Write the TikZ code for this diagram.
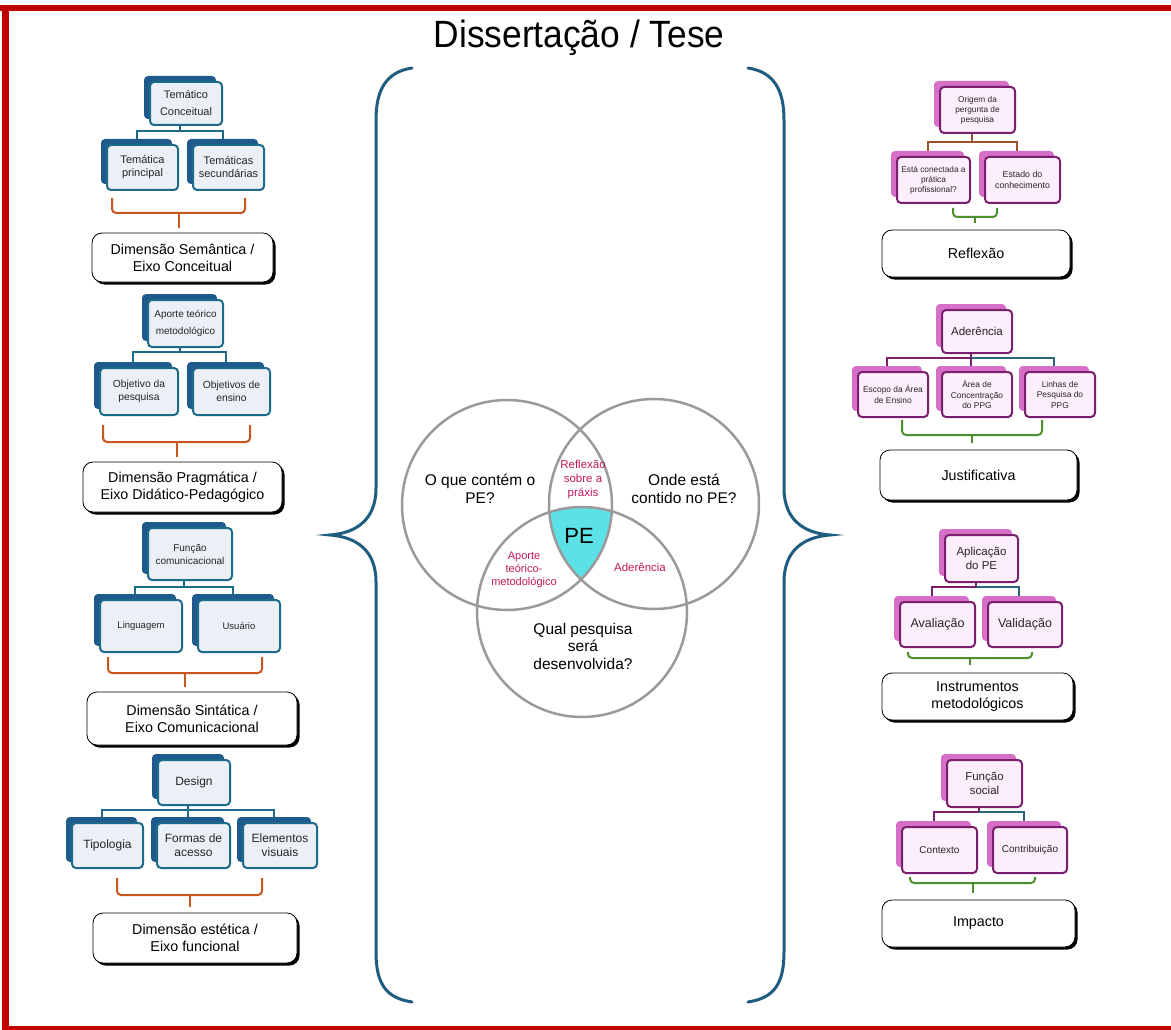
\documentclass[tikz,border=0pt]{standalone}
\usepackage{fontspec}
\setmainfont{Liberation Sans}
\usetikzlibrary{backgrounds}
\definecolor{frameRed}{HTML}{C00000}
\definecolor{braceBlue}{HTML}{1F5C80}
\definecolor{bBack}{HTML}{1F5A8C}
\definecolor{bLine}{HTML}{1D6A8A}
\definecolor{bFill}{HTML}{EAF0F6}
\definecolor{pBack}{HTML}{D66FC7}
\definecolor{pLine}{HTML}{7A1F6E}
\definecolor{pFill}{HTML}{FCEEFA}
\definecolor{oBrace}{HTML}{C8561E}
\definecolor{gBrace}{HTML}{4E8F2E}
\definecolor{brownC}{HTML}{A0522D}
\definecolor{tealC}{HTML}{2A6580}
\definecolor{vennGray}{HTML}{9A9A9A}
\definecolor{peCyan}{HTML}{5CE1E6}
\definecolor{magText}{HTML}{C2185B}
\definecolor{txt}{HTML}{262626}

\newcommand\BX[9]{%
 \node[#1back, minimum width={(#5-#3)*1pt}, minimum height={(#6-#4)*1pt}] (#2b) at ({(#3+#5)/2-6},{(#4+#6)/2-6}) {};
 \node[#1front, minimum width={(#5-#3)*1pt}, minimum height={(#6-#4)*1pt}, font=\fontsize{#7}{#8}\selectfont] (#2) at ({(#3+#5)/2},{(#4+#6)/2}) {#9};
}
\newcommand\LB[6]{%
 \fill[black, rounded corners=10pt] (#2+2.5,#3+2.5) rectangle (#4+2.5,#5+2.5);
 \node[labelbox, minimum width={(#4-#2)*1pt}, minimum height={(#5-#3)*1pt}] (#1) at ({(#2+#4)/2},{(#3+#5)/2}) {#6};
}
\newcommand\BR[6]{%
 \draw[#1, rounded corners=4pt] (#2,#4) -- (#2,#5) -- (#3,#5) -- (#3,#4);
 \draw[#1] ({(#2+#3)/2},#5) -- ({(#2+#3)/2},#6);
}

\begin{document}
\begin{tikzpicture}[x=1pt,y=-1pt,
  bback/.style={fill=bBack, draw=none, rounded corners=4pt, inner sep=0pt},
  bfront/.style={fill=bFill, draw=bLine, line width=2pt, rounded corners=4pt, inner sep=1pt, align=center, text=txt},
  pback/.style={fill=pBack, draw=none, rounded corners=4pt, inner sep=0pt},
  pfront/.style={fill=pFill, draw=pLine, line width=2pt, rounded corners=4pt, inner sep=1pt, align=center, text=txt},
  labelbox/.style={draw=black, fill=white, line width=0.8pt, rounded corners=10pt, align=center, inner sep=1pt, font=\fontsize{14.3}{17}\selectfont},
  bconn/.style={draw=bLine, line width=2pt},
  pconn/.style={draw=pLine, line width=2pt},
  tconn/.style={draw=tealC, line width=2pt},
  rconn/.style={draw=brownC, line width=2pt},
  obr/.style={draw=oBrace, line width=2pt},
  gbr/.style={draw=gBrace, line width=2pt},
  bigbrace/.style={draw=braceBlue, line width=3pt, line cap=round},
  venn/.style={draw=vennGray, line width=2.5pt},
  vtext/.style={align=center, font=\fontsize{15.5}{17.5}\selectfont, text=black},
  mtext/.style={align=center, font=\fontsize{11.5}{14}\selectfont, text=magText}
]
\useasboundingbox (0,0) rectangle (1171,1030);

% frame
\fill[frameRed] (0,5) rectangle (1171,11);
\fill[frameRed] (2,5) rectangle (9,1030);
\fill[frameRed] (2,1026) rectangle (1171,1030);

% title
\node[font=\fontsize{38}{42}\selectfont] (title) at (579,38) {\scalebox{0.93}[1]{Dissertação / Tese}};

% big braces
\draw[bigbrace] (412,68) .. controls (386,72) and (376,90) .. (376,120) -- (376,488) .. controls (376,520) and (356,533) .. (330,535) .. controls (356,537) and (376,550) .. (376,582) -- (376,952) .. controls (376,984) and (386,998) .. (412,1002);
\draw[bigbrace] (748,68) .. controls (774,72) and (784,90) .. (784,120) -- (784,488) .. controls (784,520) and (804,533) .. (830,535) .. controls (804,537) and (784,550) .. (784,582) -- (784,952) .. controls (784,984) and (774,998) .. (748,1002);

% Venn
\coordinate (vA) at (507,505);
\coordinate (vB) at (654,504);
\coordinate (vC) at (582,612);
\begin{scope}
 \clip (vA) circle[radius=105pt];
 \clip (vB) circle[radius=105pt];
 \fill[peCyan] (vC) circle[radius=105pt];
\end{scope}
\draw[venn] (vA) circle[radius=105pt];
\draw[venn] (vB) circle[radius=105pt];
\draw[venn] (vC) circle[radius=105pt];
\node[vtext] (tA) at (480,489) {O que contém o\\PE?};
\node[vtext] (tB) at (684,489) {Onde está\\contido no PE?};
\node[vtext] (tC) at (583,646) {Qual pesquisa\\será\\desenvolvida?};
\node[mtext] (tAB) at (583,480) {Reflexão\\sobre a\\práxis};
\node[mtext, font=\fontsize{11}{13}\selectfont] (tAC) at (524,570) {Aporte\\teórico-\\metodológico};
\node[mtext] (tBC) at (640,567) {Aderência};
\node[font=\fontsize{22}{24}\selectfont] (tPE) at (579,536) {PE};

% ---------------- left groups ----------------
\BX{b}{La}{150}{82}{222}{125}{11}{17}{Temático\\Conceitual}
\BX{b}{La1}{107}{145}{178}{190}{11}{13}{Temática\\principal}
\BX{b}{La2}{193}{145}{264}{190}{11}{13}{Temáticas\\secundárias}
\coordinate (busLa) at (0,131);
\BR{obr}{112}{245}{198}{213}{228}
\LB{LaL}{92}{233}{273}{282}{Dimensão Semântica /\\Eixo Conceitual}

\BX{b}{Lb}{148}{300}{223}{347}{10}{17}{Aporte teórico\\metodológico}
\BX{b}{Lb1}{100}{368}{178}{415}{10.3}{13}{Objetivo da\\pesquisa}
\BX{b}{Lb2}{193}{368}{270}{415}{10.3}{13}{Objetivos de\\ensino}
\coordinate (busLb) at (0,352);
\BR{obr}{103}{250}{425}{442}{457}
\LB{LbL}{83}{462}{282}{512}{Dimensão Pragmática /\\Eixo Didático-Pedagógico}

\BX{b}{Lc}{148}{528}{232}{580}{10}{13}{Função\\comunicacional}
\BX{b}{Lc1}{100}{600}{182}{652}{9.5}{12}{Linguagem}
\BX{b}{Lc2}{198}{600}{280}{652}{9.5}{12}{Usuário}
\coordinate (busLc) at (0,587);
\BR{obr}{108}{262}{657}{673}{687}
\LB{LcL}{87}{692}{297}{745}{Dimensão Sintática /\\Eixo Comunicacional}

\BX{b}{Ld}{158}{760}{230}{805}{12}{14}{Design}
\BX{b}{Ld1}{72}{823}{143}{868}{12}{14}{Tipologia}
\BX{b}{Ld2}{157}{823}{230}{868}{12}{14}{Formas de\\acesso}
\BX{b}{Ld3}{243}{823}{317}{868}{12}{14}{Elementos\\visuais}
\coordinate (busLd) at (0,810);
\BR{obr}{117}{262}{878}{895}{907}
\LB{LdL}{93}{913}{297}{963}{Dimensão estética /\\Eixo funcional}

% ---------------- right groups ----------------
\BX{p}{Ra}{940}{87}{1015}{133}{8.3}{10}{Origem da\\pergunta de\\pesquisa}
\BX{p}{Ra1}{897}{157}{970}{203}{8.3}{10}{Está conectada a\\prática\\profissional?}
\BX{p}{Ra2}{985}{157}{1060}{203}{8.8}{11}{Estado do\\conhecimento}
\coordinate (busRa) at (0,142);
\BR{gbr}{953}{997}{208}{217}{223}
\LB{RaL}{882}{230}{1070}{277}{Reflexão}

\BX{p}{Rb}{942}{310}{1012}{353}{11.5}{14}{Aderência}
\BX{p}{Rb1}{858}{372}{928}{417}{8.4}{11}{Escopo da Área\\de Ensino}
\BX{p}{Rb2}{942}{372}{1012}{417}{8.4}{10.5}{Área de\\Concentração\\do PPG}
\BX{p}{Rb3}{1025}{372}{1095}{417}{8.4}{10.5}{Linhas de\\Pesquisa do\\PPG}
\coordinate (busRb) at (0,358);
\BR{gbr}{902}{1042}{420}{435}{443}
\LB{RbL}{880}{450}{1077}{500}{Justificativa}

\BX{p}{Rc}{945}{535}{1018}{582}{11.5}{14}{Aplicação\\do PE}
\BX{p}{Rc1}{900}{602}{975}{647}{12.5}{14}{Avaliação}
\BX{p}{Rc2}{988}{602}{1062}{647}{12.5}{14}{Validação}
\coordinate (busRc) at (0,587);
\BR{gbr}{908}{1032}{652}{658}{665}
\LB{RcL}{882}{673}{1073}{720}{Instrumentos\\metodológicos}

\BX{p}{Rd}{947}{760}{1022}{807}{11.5}{14}{Função\\social}
\BX{p}{Rd1}{902}{827}{977}{873}{10}{12}{Contexto}
\BX{p}{Rd2}{993}{827}{1067}{873}{10}{12}{Contribuição}
\coordinate (busRd) at (0,812);
\BR{gbr}{910}{1035}{877}{883}{893}
\LB{RdL}{882}{900}{1075}{947}{Impacto}

% ---------------- connectors (behind) ----------------
\begin{scope}[on background layer]
 \fill[white] (0,0) rectangle (1171,1030);
 \draw[bconn] (Lab.south) -- (Lab.south |- busLa);
 \draw[bconn] (La1b.north) |- (La2b.north |- busLa) -- (La2b.north);
 \draw[bconn] (Lbb.south) -- (Lbb.south |- busLb);
 \draw[bconn] (Lb1b.north) |- (Lb2b.north |- busLb) -- (Lb2b.north);
 \draw[bconn] (Lcb.south) -- (Lcb.south |- busLc);
 \draw[bconn] (Lc1b.north) |- (Lc2b.north |- busLc) -- (Lc2b.north);
 \draw[bconn] (Ldb.south) -- (Ldb.south |- busLd);
 \draw[bconn] (Ld1b.north) |- (Ld3b.north |- busLd) -- (Ld3b.north);
 \draw[bconn] (Ld2b.north) -- (Ld2b.north |- busLd);

 \draw[rconn] (Rab.south) -- (Rab.south |- busRa);
 \draw[rconn] (Ra1b.north) |- (Ra2b.north |- busRa) -- (Ra2b.north);

 \draw[pconn] (Rbb.south) -- (Rbb.south |- busRb);
 \draw[pconn] (Rb1b.north) |- (Rbb.south |- busRb);
 \draw[tconn] (Rbb.south |- busRb) -| (Rb3b.north);
 \draw[pconn] (Rb2b.north) -- (Rb2b.north |- busRb);

 \draw[pconn] (Rcb.south) -- (Rcb.south |- busRc);
 \draw[pconn] (Rc1b.north) |- (Rcb.south |- busRc);
 \draw[tconn] (Rcb.south |- busRc) -| (Rc2b.north);

 \draw[pconn] (Rdb.south) -- (Rdb.south |- busRd);
 \draw[pconn] (Rd1b.north) |- (Rdb.south |- busRd);
 \draw[tconn] (Rdb.south |- busRd) -| (Rd2b.north);
\end{scope}
\end{tikzpicture}
\end{document}
